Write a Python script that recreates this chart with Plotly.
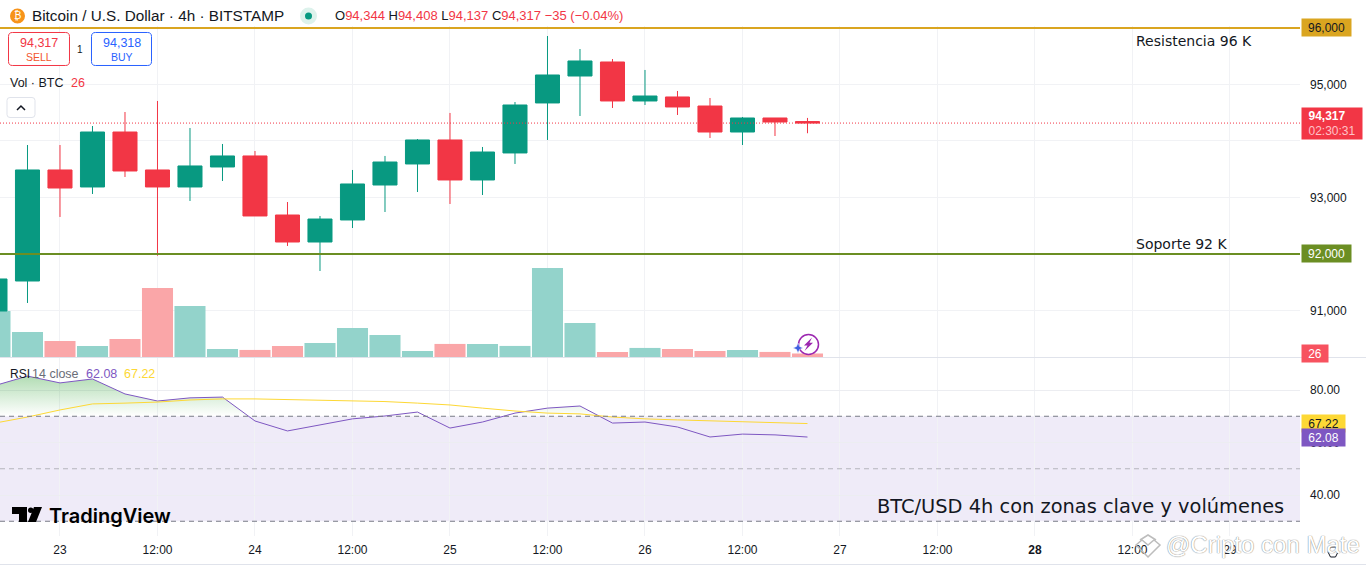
import plotly.graph_objs as go

# price / indicator values
times = ['2025-04-22 16:00', '2025-04-22 20:00', '2025-04-23 00:00', '2025-04-23 04:00', '2025-04-23 08:00',
         '2025-04-23 12:00', '2025-04-23 16:00', '2025-04-23 20:00', '2025-04-24 00:00', '2025-04-24 04:00',
         '2025-04-24 08:00', '2025-04-24 12:00', '2025-04-24 16:00', '2025-04-24 20:00', '2025-04-25 00:00',
         '2025-04-25 04:00', '2025-04-25 08:00', '2025-04-25 12:00', '2025-04-25 16:00', '2025-04-25 20:00',
         '2025-04-26 00:00', '2025-04-26 04:00', '2025-04-26 08:00', '2025-04-26 12:00', '2025-04-26 16:00',
         '2025-04-26 20:00']
opens = [90991, 91522, 93487, 93186, 94159, 93487, 93186, 93540, 93735, 92690, 92212, 92602, 93221,
         93593, 94018, 93310, 93788, 94673, 95150, 95398, 94708, 94779, 94619, 94159, 94407, 94344]
highs = [91611, 93929, 93929, 94265, 94513, 94708, 94230, 93947, 93823, 92920, 92673, 93487, 93735,
         94035, 94496, 93894, 94690, 95858, 95628, 95451, 95257, 94885, 94761, 94425, 94407, 94408]
lows = [90900, 91133, 92655, 93062, 93363, 91970, 92938, 93292, 92673, 92142, 91699, 92460, 92743,
        93097, 92885, 93044, 93593, 94018, 94442, 94584, 94637, 94460, 94053, 93929, 94088, 94137]
closes = [91558, 93487, 93168, 94159, 93469, 93186, 93558, 93735, 92673, 92212, 92619, 93239, 93628,
          94018, 93310, 93805, 94637, 95168, 95416, 94708, 94796, 94602, 94159, 94407, 94336, 94317]
volumes = [345, 188, 120, 83, 135, 518, 383, 60, 53, 83, 105, 218, 165, 45, 98, 98, 83, 668, 255, 38,
           68, 60, 45, 53, 38, 26]
rsi = [81.7, 85.3, 82.7, 84.2, 78.5, 75.8, 77.0, 77.3, 68.2, 64.4, 66.7, 69.0, 70.1, 71.6, 65.5, 67.8,
       71.2, 73.1, 73.9, 67.4, 67.8, 65.9, 62.1, 63.2, 62.9, 62.08]
rsi_ma = [67.4, 69.7, 72.4, 74.7, 75.0, 75.4, 76.2, 76.6, 76.6, 76.4, 76.2, 75.8, 75.6, 75.0, 74.3, 73.1,
          72.0, 71.2, 70.9, 69.7, 69.0, 68.6, 68.2, 67.8, 67.6, 67.22]

tick_times = ['2025-04-23 00:00', '2025-04-23 12:00', '2025-04-24 00:00', '2025-04-24 12:00',
              '2025-04-25 00:00', '2025-04-25 12:00', '2025-04-26 00:00', '2025-04-26 12:00',
              '2025-04-27 00:00', '2025-04-27 12:00', '2025-04-28 00:00', '2025-04-28 12:00',
              '2025-04-29 00:00']
tick_labels = ['23', '12:00', '24', '12:00', '25', '12:00', '26', '12:00', '27', '12:00', '<b>28</b>', '12:00', '29']
price_ticks = [91000, 92000, 93000, 94000, 95000, 96000]
price_labels = ['91,000', '', '93,000', '', '95,000', '']
rsi_ticks = [40, 60, 80]
rsi_labels = ['40.00', '60.00', '80.00']

GREEN = '#089981'
RED = '#F23645'
GRID = '#F1F2F5'
TEXT = '#131722'
FONT = 'Liberation Sans'
W = 1300.0
H = 566.0


def px(x):
    return x / W


def py(y):
    return 1 - y / H


def dom(top, bottom):
    return [py(bottom), py(top)]


def pt(a, b):
    return '%.5f,%.5f' % (px(a), py(b))


def path(points, close=True):
    return 'M' + ' L'.join(pt(a, b) for a, b in points) + (' Z' if close else '')


def rounded(x0, y0, x1, y1, r=4):
    return ('M' + pt(x0 + r, y0) + ' L' + pt(x1 - r, y0) + ' Q' + pt(x1, y0) + ' ' + pt(x1, y0 + r) +
            ' L' + pt(x1, y1 - r) + ' Q' + pt(x1, y1) + ' ' + pt(x1 - r, y1) +
            ' L' + pt(x0 + r, y1) + ' Q' + pt(x0, y1) + ' ' + pt(x0, y1 - r) +
            ' L' + pt(x0, y0 + r) + ' Q' + pt(x0, y0) + ' ' + pt(x0 + r, y0) + ' Z')


def note(x, y, text, size=12, color=TEXT, anchor='left', **kw):
    return dict(xref='paper', yref='paper', x=px(x), y=py(y), text=text, showarrow=False, xanchor=anchor,
                yanchor='middle', font=dict(family=kw.pop('family', FONT), size=size, color=color,
                                            **kw.pop('font', {})), borderpad=0, **kw)


def tag(x0, x1, y, yref, text, bg, color='#FFFFFF', height=17):
    return dict(xref='paper', yref=yref, x=px(x0), y=y, text=text, showarrow=False, xanchor='left', yanchor='middle',
                width=x1 - x0, height=height, bgcolor=bg, align='center', borderpad=0,
                font=dict(family=FONT, size=12, color=color))


vol_colors = ['#93D3CB' if c >= o else '#FAA6A8' for o, c in zip(opens, closes)]

volume = go.Bar(x=times, y=volumes, marker=dict(color=vol_colors, line=dict(width=0)), yaxis='y', xaxis='x',
                hoverinfo='skip')
candles = go.Candlestick(x=times, open=opens, high=highs, low=lows, close=closes, yaxis='y2', xaxis='x',
                         increasing=dict(line=dict(color=GREEN, width=1), fillcolor=GREEN),
                         decreasing=dict(line=dict(color=RED, width=1), fillcolor=RED),
                         whiskerwidth=0)
rsi_line = go.Scatter(x=times, y=rsi, mode='lines', line=dict(color='#7E57C2', width=1), yaxis='y3', xaxis='x',
                      fill='tozeroy',
                      fillgradient=dict(type='vertical', start=0, stop=100,
                                        colorscale=[[0, 'rgba(76,175,80,0)'], [0.7, 'rgba(76,175,80,0)'],
                                                    [0.85, 'rgba(76,175,80,0.42)'], [1, 'rgba(76,175,80,0.6)']]))
ma_line = go.Scatter(x=times, y=rsi_ma, mode='lines', line=dict(color='#FDD835', width=1), yaxis='y3', xaxis='x')

shapes = [
    dict(type='rect', xref='paper', yref='y3', x0=0, x1=1, y0=30, y1=70, fillcolor='rgba(126,87,194,0.12)',
         line=dict(width=0), layer='below'),
    dict(type='line', xref='paper', yref='y3', x0=0, x1=1, y0=70, y1=70, line=dict(color='#787B86', width=1, dash='5px,4px')),
    dict(type='line', xref='paper', yref='y3', x0=0, x1=1, y0=50, y1=50, line=dict(color='#B4B5BD', width=1, dash='5px,4px')),
    dict(type='line', xref='paper', yref='y3', x0=0, x1=1, y0=30, y1=30, line=dict(color='#787B86', width=1, dash='5px,4px')),
    dict(type='line', xref='paper', yref='y2', x0=0, x1=1, y0=96000, y1=96000, line=dict(color='#DAA520', width=2)),
    dict(type='line', xref='paper', yref='y2', x0=0, x1=1, y0=92000, y1=92000, line=dict(color='#6B8E23', width=2)),
    dict(type='line', xref='paper', yref='y2', x0=0, x1=1, y0=closes[-1], y1=closes[-1],
         line=dict(color=RED, width=1, dash='1px,2px')),
    # pane separators
    dict(type='line', xref='paper', yref='paper', x0=0, x1=1366 / W, y0=py(357.5), y1=py(357.5), line=dict(color='#E0E3EB', width=1)),
    dict(type='line', xref='paper', yref='paper', x0=0, x1=1366 / W, y0=py(564.5), y1=py(564.5), line=dict(color='#E0E3EB', width=1)),
    # header icons
    dict(type='circle', xref='paper', yref='paper', x0=px(10), x1=px(25), y0=py(23.5), y1=py(8.5), fillcolor='#F7931A', line=dict(width=0)),
    dict(type='circle', xref='paper', yref='paper', x0=px(300), x1=px(317), y0=py(24.5), y1=py(7.5), fillcolor='#DDF2EC', line=dict(width=0)),
    dict(type='circle', xref='paper', yref='paper', x0=px(305), x1=px(312), y0=py(19.5), y1=py(12.5), fillcolor=GREEN, line=dict(width=0)),
    # sell / buy boxes and collapse button
    dict(type='path', xref='paper', yref='paper', path=rounded(8.5, 32.5, 69.5, 65.5), fillcolor='#FFFFFF', line=dict(color=RED, width=1)),
    dict(type='path', xref='paper', yref='paper', path=rounded(91.5, 32.5, 151.5, 65.5), fillcolor='#FFFFFF', line=dict(color='#2962FF', width=1)),
    dict(type='path', xref='paper', yref='paper', path=rounded(7, 97.5, 35, 117.5, 3), fillcolor='#FFFFFF', line=dict(color='#E0E3EB', width=1)),
    dict(type='path', xref='paper', yref='paper', path=path([(17, 110), (21, 106), (25, 110)], close=False),
         line=dict(color=TEXT, width=1.5)),
    # TradingView logo
    dict(type='path', xref='paper', yref='paper', fillcolor='#000000', line=dict(width=0),
         path=path([(12, 507), (27, 507), (27, 522), (19, 522), (19, 514), (12, 514)])),
    dict(type='circle', xref='paper', yref='paper', fillcolor='#000000', line=dict(width=0), x0=px(28), x1=px(33.5), y0=py(513), y1=py(507.5)),
    dict(type='path', xref='paper', yref='paper', fillcolor='#000000', line=dict(width=0),
         path=path([(34, 507), (42, 507), (36, 522), (28, 522)])),
    # lightning badge
    dict(type='circle', xref='paper', yref='paper', x0=px(798.5), x1=px(818.5), y0=py(354.5), y1=py(334.5), fillcolor='#FFFFFF', line=dict(color='#9C27B0', width=1.5)),
    dict(type='path', xref='paper', yref='paper', fillcolor='#9C27B0', line=dict(width=0),
         path=path([(812, 337.5), (804, 345.5), (807.5, 345.5), (804.5, 351), (813, 342.8), (809.5, 342.8)])),
    dict(type='path', xref='paper', yref='paper', fillcolor='#3F5FE0', line=dict(color='#FFFFFF', width=0.5),
         path=path([(798, 343), (799.5, 346.5), (803, 348), (799.5, 349.5), (798, 353), (796.5, 349.5), (793, 348), (796.5, 346.5)])),
    # settings icon under the watermark
    dict(type='path', xref='paper', yref='paper', line=dict(color=TEXT, width=1),
         path=path([(1328, 552), (1330.5, 547), (1335.5, 547), (1338, 552), (1335.5, 557), (1330.5, 557)])),
    # watermark icon
    dict(type='path', xref='paper', yref='paper', line=dict(color='#BDBDBD', width=1.5),
         path=path([(1136, 545), (1148, 557), (1160, 545), (1154, 540), (1148, 545), (1142, 540)])),
    dict(type='path', xref='paper', yref='paper', line=dict(color='#BDBDBD', width=1.5),
         path=path([(1140, 540), (1148, 535), (1156, 540)], close=False)),
]

ohlc = ('<span style="color:%s">O</span>94,344 <span style="color:%s">H</span>94,408 '
        '<span style="color:%s">L</span>94,137 <span style="color:%s">C</span>94,317 −35 (−0.04%%)') % (TEXT, TEXT, TEXT, TEXT)

annotations = [
    note(31, 16, 'Bitcoin / U.S. Dollar · 4h · BITSTAMP', size=15.3),
    note(17.5, 16, '₿', size=10, color='#FFFFFF', anchor='center'),
    note(334, 16, ohlc, size=13, color=RED),
    note(39, 43, '94,317', size=12.5, color=RED, anchor='center'),
    note(39, 57, 'SELL', size=10.5, color='#F2542D', anchor='center'),
    note(121.5, 43, '94,318', size=12.5, color='#2962FF', anchor='center'),
    note(121.5, 57, 'BUY', size=10.5, color='#2962FF', anchor='center'),
    note(80, 50, '1', size=10, anchor='center'),
    note(9, 83, 'Vol · BTC', size=12.5),
    note(70, 83, '26', size=12.5, color=RED),
    note(9, 374, 'RSI', size=12),
    note(31, 374, '14 close', size=12.5, color='#6A6D78'),
    note(85, 374, '62.08', size=12.5, color='#7E57C2'),
    note(123, 374, '67.22', size=12.5, color='#FDD835'),
    note(48, 516, 'TradingView', size=20, color='#000000', family='Inter', font=dict(weight=600)),
    note(1135, 41, 'Resistencia 96 K', size=14, family='DejaVu Sans'),
    note(1135, 244, 'Soporte 92 K', size=14, family='DejaVu Sans'),
    note(876, 506, 'BTC/USD 4h con zonas clave y volúmenes', size=19.4, family='DejaVu Sans'),
    note(1165, 544, '@Cripto con Mate', size=24, color='#FFFFFF', anchor='left',
         font=dict(shadow='0 0 1px #8A8A8A, 0 0 1px #8A8A8A')),
    tag(1301, 1350, 96000, 'y2', '96,000', '#DAA520', TEXT),
    tag(1301, 1350, 92000, 'y2', '92,000', '#6B8E23'),
    tag(1301, 1361, closes[-1], 'y2', '<b>94,317</b>&nbsp;&nbsp;&nbsp;<br><span style="color:#FFC2C7">02:30:31</span>', RED, height=31),
    tag(1301, 1327, volumes[-1], 'y', '26', '#F7525F'),
    tag(1301, 1344, rsi_ma[-1], 'y3', '67.22', '#FDD835', TEXT),
    tag(1301, 1344, rsi[-1], 'y3', '62.08', '#7E57C2'),
]

layout = go.Layout(
    width=1366, height=566, autosize=False,
    margin=dict(l=0, r=66, t=0, b=0),
    paper_bgcolor='#FFFFFF', plot_bgcolor='#FFFFFF',
    showlegend=False, bargap=0.045, boxgap=0.26, boxgroupgap=0, hovermode=False,
    font=dict(family=FONT, size=12, color=TEXT),
    xaxis=dict(type='date', range=['2025-04-22 16:37', '2025-04-29 08:37'], anchor='y3', domain=[0, 1],
               tickmode='array', tickvals=tick_times, ticktext=tick_labels, ticks='', ticklabelstandoff=5,
               showgrid=True, gridcolor=GRID, gridwidth=1, zeroline=False, showline=False,
               rangeslider=dict(visible=False), tickangle=0, tickfont=dict(size=12, color=TEXT)),
    yaxis=dict(domain=dom(26, 357), range=[0, 2482], showgrid=False, showticklabels=False, zeroline=False, anchor='x'),
    yaxis2=dict(domain=dom(26, 357), range=[90177, 96035], overlaying='y', side='right', anchor='x',
                tickmode='array', tickvals=price_ticks, ticktext=price_labels, ticks='', ticklabelstandoff=9,
                showgrid=True, gridcolor=GRID, zeroline=False, showline=False, tickfont=dict(size=12, color=TEXT)),
    yaxis3=dict(domain=dom(358, 536), range=[24.38, 92.19], side='right', anchor='x',
                tickmode='array', tickvals=rsi_ticks, ticktext=rsi_labels, ticks='', ticklabelstandoff=9,
                showgrid=True, gridcolor='#ECEDF1', zeroline=False, showline=False, tickfont=dict(size=12, color=TEXT)),
    shapes=shapes,
    annotations=annotations,
)

fig = go.Figure(data=[volume, candles, rsi_line, ma_line], layout=layout)
# the page has a default body margin, take it off so the chart sits at 0,0
fig.write_html("out.html", config={'displayModeBar': False},
               post_script="document.body.style.margin='0';document.body.style.overflow='hidden';")
